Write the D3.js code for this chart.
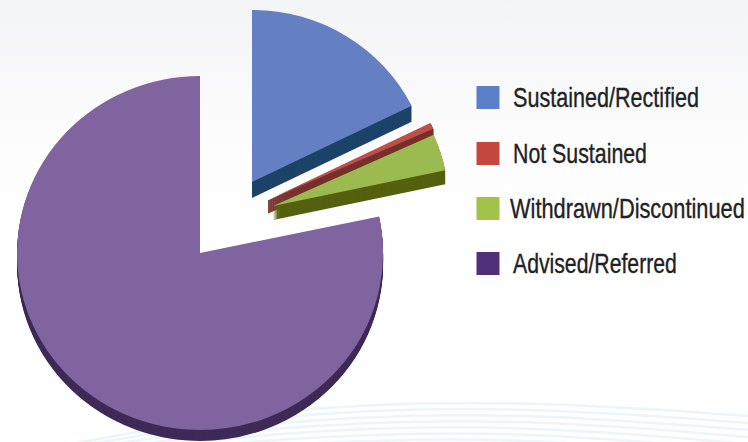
<!DOCTYPE html>
<html>
<head>
<meta charset="utf-8">
<script src="https://cdn.jsdelivr.net/npm/d3@7"></script>
<style>
html,body{margin:0;padding:0;background:#fff;overflow:hidden}
svg{display:block}
text{font-family:"Liberation Sans",Arial,sans-serif;}
</style>
</head>
<body>
<svg id="chart" width="748" height="442"></svg>
<script>
// Complaint outcomes, percent of all cases
const categories = ["Sustained/Rectified", "Not Sustained", "Withdrawn/Discontinued", "Advised/Referred"];
const shares = [17.7, 0.6, 3.4, 78.3];
const topColors = ["#6480c2", "#bf4f48", "#9bbb50", "#8064a0"];
const sideColors = ["#1d4368", "#76302c", "#55610f", "#3f2a57"];
const swatchColors = ["#5b80c9", "#c5473f", "#a3c24a", "#4f3179"];

// Exploded-slice layout: centre, radii and extrusion depth per slice
const centers = [[252, 182], [268, 200], [273, 206], [200, 253]];
const radiiX = [178, 181, 176, 183];
const radiiY = [172, 174, 174, 177];
const depths = [16, 13, 14, 11];
const sideStrokes = [0, 0.8, 0, 0];
const legendX = [513, 513, 510, 513];
const legendY = [97, 153, 208, 263];
const legendWidths = [186, 134, 235, 164];

const svg = d3.select("#chart");
const defs = svg.append("defs");

const bg = defs.append("linearGradient").attr("id", "bg")
  .attr("x1", 0).attr("y1", 0).attr("x2", 0).attr("y2", 1);
bg.append("stop").attr("offset", "0").attr("stop-color", "#f3f4f5");
bg.append("stop").attr("offset", "0.3").attr("stop-color", "#fcfcfd");
bg.append("stop").attr("offset", "0.6").attr("stop-color", "#ffffff");
svg.append("rect").attr("width", 748).attr("height", 442).attr("fill", "url(#bg)");

// Faint swoosh lines along the bottom of the slide
const swooshOffsets = [402, 408, 414, 420, 426, 432, 438];
const swooshX = d3.scaleLinear().domain([0, 1]).range([60, 748]);
const swoosh = d3.line()
  .x(d => swooshX(d[0]))
  .y(d => d[1])
  .curve(d3.curveBasis);
svg.append("g").selectAll("path")
  .data(swooshOffsets)
  .join("path")
  .attr("d", (y, i) => swoosh([[0, 446 + i * 3], [0.3, y + 6], [0.65, y - 3], [1, y + 14 + i]]))
  .attr("fill", "none")
  .attr("stroke", "#e6f2f9")
  .attr("stroke-width", 2.5)
  .attr("opacity", 0.8);

const pie = d3.pie().sort(null).startAngle(0).endAngle(2 * Math.PI);
const slices = pie(shares);
const arc = d3.arc().innerRadius(0).outerRadius(1);

const chart = svg.append("g");
// Draw back to front so the nearer slices overlap their neighbours
[0, 1, 2, 3].forEach(i => {
  const g = chart.append("g");
  const place = off => `translate(${centers[i][0]},${centers[i][1] + off}) scale(${radiiX[i]},${radiiY[i]})`;
  d3.range(depths[i], 0, -1).forEach(off => {
    g.append("path")
      .attr("d", arc(slices[i]))
      .attr("transform", place(off))
      .attr("fill", sideColors[i])
      .attr("stroke", sideStrokes[i] ? sideColors[i] : "none")
      .attr("stroke-width", sideStrokes[i])
      .attr("vector-effect", "non-scaling-stroke");
  });
  g.append("path").attr("d", arc(slices[i])).attr("transform", place(0)).attr("fill", topColors[i]);
});

const legend = svg.append("g").selectAll("g").data(categories).join("g");
legend.append("rect")
  .attr("x", 476.5)
  .attr("y", (d, i) => legendY[i] - 11)
  .attr("width", 23)
  .attr("height", 23)
  .attr("fill", (d, i) => swatchColors[i]);
// Labels are squeezed horizontally to a condensed look
legend.append("text")
  .attr("font-size", 27)
  .attr("fill", "#222222")
  .attr("stroke", "#222222")
  .attr("stroke-width", 0.35)
  .text(d => d)
  .attr("transform", function (d, i) {
    const squeeze = legendWidths[i] / this.getComputedTextLength();
    return `translate(${legendX[i]},${legendY[i] + 10}) scale(${squeeze},1)`;
  });
</script>
</body>
</html>
